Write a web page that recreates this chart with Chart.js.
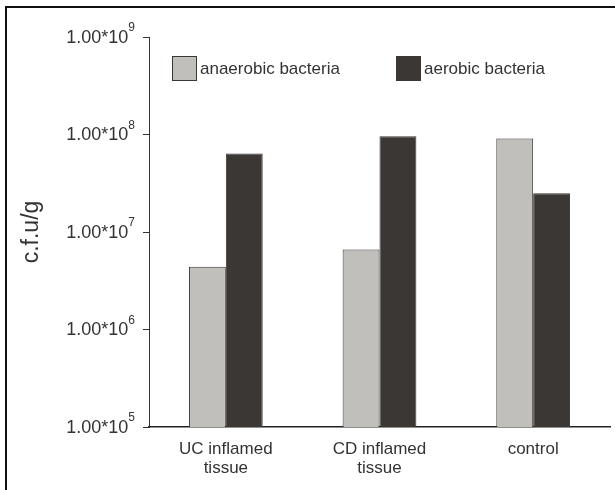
<!DOCTYPE html>
<html lang="en">
<head>
  <meta charset="UTF-8" />
  <title>c.f.u/g - anaerobic vs aerobic bacteria</title>
  <script src="https://cdn.jsdelivr.net/npm/chart.js"></script>
  <style>
    html, body {
      margin: 0;
      padding: 0;
      background: #ffffff;
      overflow: hidden;
    }
    #wrap {
      position: relative;
      width: 615px;
      height: 490px;
    }
    #frame {
      position: absolute;
      left: 5px;
      top: 6px;
      width: 700px;
      height: 600px;
      border: 2px solid #111;
    }
    #chart {
      position: absolute;
      left: 0;
      top: 0;
    }
  </style>
</head>
<body>
  <div id="wrap">
    <div id="frame"></div>
    <canvas id="chart" width="615" height="490"></canvas>
  </div>
  <script>
    // data
    const categories = [['UC inflamed', 'tissue'], ['CD inflamed', 'tissue'], 'control'];
    const anaerobic = [4.4e6, 6.6e6, 9.1e7];
    const aerobic = [6.4e7, 9.6e7, 2.5e7];
    const yTicks = [1e5, 1e6, 1e7, 1e8, 1e9];
    const seriesNames = ['anaerobic bacteria', 'aerobic bacteria'];

    const textColor = '#333333';
    const fontFamily = '"Liberation Sans", Arial, sans-serif';

    // legend sits inside the plot, so draw it here
    const insideLegend = {
      id: 'insideLegend',
      afterDraw(chart) {
        const ctx = chart.ctx;
        const spots = [172, 396];
        ctx.save();
        chart.data.datasets.forEach((ds, i) => {
          const x = spots[i];
          const y = 56;
          ctx.fillStyle = ds.backgroundColor;
          ctx.fillRect(x, y, 25, 25);
          ctx.strokeStyle = ds.borderColor;
          ctx.lineWidth = 1;
          ctx.strokeRect(x + 0.5, y + 0.5, 24, 24);
          ctx.fillStyle = textColor;
          ctx.font = '17px ' + fontFamily;
          ctx.textBaseline = 'middle';
          ctx.fillText(ds.label, x + 28, y + 13);
        });
        ctx.restore();
      }
    };

    // y tick labels with a raised exponent: 1.00*10^n
    const powerLabels = {
      id: 'powerLabels',
      afterDraw(chart) {
        const scale = chart.scales.y;
        const ctx = chart.ctx;
        const right = scale.right - 14;
        ctx.save();
        ctx.fillStyle = textColor;
        ctx.textBaseline = 'middle';
        scale.ticks.forEach(t => {
          const y = scale.getPixelForValue(t.value);
          const exp = String(Math.round(Math.log10(t.value)));
          ctx.font = '12px ' + fontFamily;
          const ew = ctx.measureText(exp).width;
          ctx.textAlign = 'left';
          ctx.fillText(exp, right - ew, y - 9);
          ctx.font = '18px ' + fontFamily;
          ctx.textAlign = 'right';
          ctx.fillText('1.00*10', right - ew, y + 1);
        });
        ctx.restore();
      }
    };

    new Chart(document.getElementById('chart'), {
      type: 'bar',
      data: {
        labels: categories,
        datasets: [
          {
            label: seriesNames[0],
            data: anaerobic,
            backgroundColor: '#c0bfbc',
            borderColor: '#3b3734',
            borderWidth: 1
          },
          {
            label: seriesNames[1],
            data: aerobic,
            backgroundColor: '#3b3734',
            borderColor: '#3b3734',
            borderWidth: 1
          }
        ]
      },
      options: {
        responsive: false,
        animation: false,
        devicePixelRatio: 1,
        layout: { padding: { left: 0, right: 5, top: 37, bottom: 0 } },
        categoryPercentage: 0.48,
        barPercentage: 1.0,
        plugins: {
          legend: { display: false },
          tooltip: { enabled: false }
        },
        scales: {
          x: {
            grid: { display: false, drawTicks: false },
            border: { display: true, color: '#222', width: 1.5 },
            ticks: {
              color: textColor,
              padding: 13,
              maxRotation: 0,
              font: { family: fontFamily, size: 17, lineHeight: 1.1 }
            },
            afterFit(scale) { scale.height = 63; }
          },
          y: {
            type: 'logarithmic',
            min: yTicks[0],
            max: yTicks[yTicks.length - 1],
            afterBuildTicks(scale) {
              scale.ticks = yTicks.map(v => ({ value: v }));
            },
            afterFit(scale) { scale.width = 149; },
            grid: {
              drawOnChartArea: false,
              drawTicks: true,
              tickLength: 6,
              color: '#333',
              lineWidth: 1
            },
            border: { display: true, color: '#333', width: 1 },
            ticks: {
              color: textColor,
              padding: 8,
              font: { family: fontFamily, size: 18 },
              callback: () => ''
            },
            title: {
              display: true,
              text: 'c.f.u/g',
              color: textColor,
              padding: { top: 18, bottom: 0 },
              font: { family: fontFamily, size: 23 }
            }
          }
        }
      },
      plugins: [insideLegend, powerLabels]
    });
  </script>
</body>
</html>
